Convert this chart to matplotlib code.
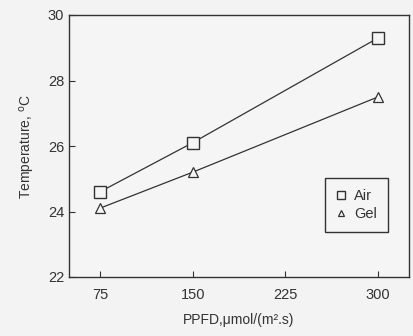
import matplotlib.pyplot as plt

# data
ppfd = [75, 150, 300]
air = [24.6, 26.1, 29.3]
gel = [24.1, 25.2, 27.5]
xticks = [75, 150, 225, 300]
yticks = [22, 24, 26, 28, 30]

plt.rcParams['font.family'] = ['Liberation Sans', 'DejaVu Sans']
ink = '#333333'

fig = plt.figure(figsize=(4.13, 3.36), dpi=100, facecolor='#f3f3f3')
ax = fig.add_axes([69 / 413, 1 - 277 / 336, 340 / 413, 262 / 336])
ax.set_facecolor('#f5f5f5')

# lines and markers drawn separately so the legend shows only the markers
ax.plot(ppfd, air, color=ink, lw=0.9)
ax.plot(ppfd, gel, color=ink, lw=0.9)
ax.plot(ppfd, air, ls='none', marker='s', ms=9, mfc='#f5f5f5', mec=ink, mew=1.0, label='Air')
ax.plot(ppfd, gel, ls='none', marker='^', ms=7, mfc='#f5f5f5', mec=ink, mew=0.9, label='Gel')

ax.set_xlim(50, 325)
ax.set_ylim(22, 30)
ax.set_xticks(xticks)
ax.set_yticks(yticks)
ax.tick_params(direction='in', length=4, colors=ink, labelsize=10.5)
ax.tick_params(axis='x', pad=8)
for s in ax.spines.values():
    s.set_color(ink)
    s.set_linewidth(1.0)

ax.set_xlabel('PPFD,\u03bcmol/(m\u00b2.s)', fontsize=10, color=ink, labelpad=8)
ax.set_ylabel('Temperature, $^{\\mathrm{o}}$C', fontsize=10, color=ink, labelpad=8)

leg = ax.legend(loc='lower right', bbox_to_anchor=(0.937, 0.172), fontsize=10.5,
                fancybox=False, framealpha=1, edgecolor=ink, borderaxespad=0,
                handlelength=0.6, handletextpad=0.6, borderpad=0.75,
                labelspacing=0.25, markerscale=0.6)
leg.get_frame().set_facecolor('#f5f5f5')
for t in leg.get_texts():
    t.set_color(ink)

fig.savefig('out.png', dpi=100, facecolor=fig.get_facecolor())
